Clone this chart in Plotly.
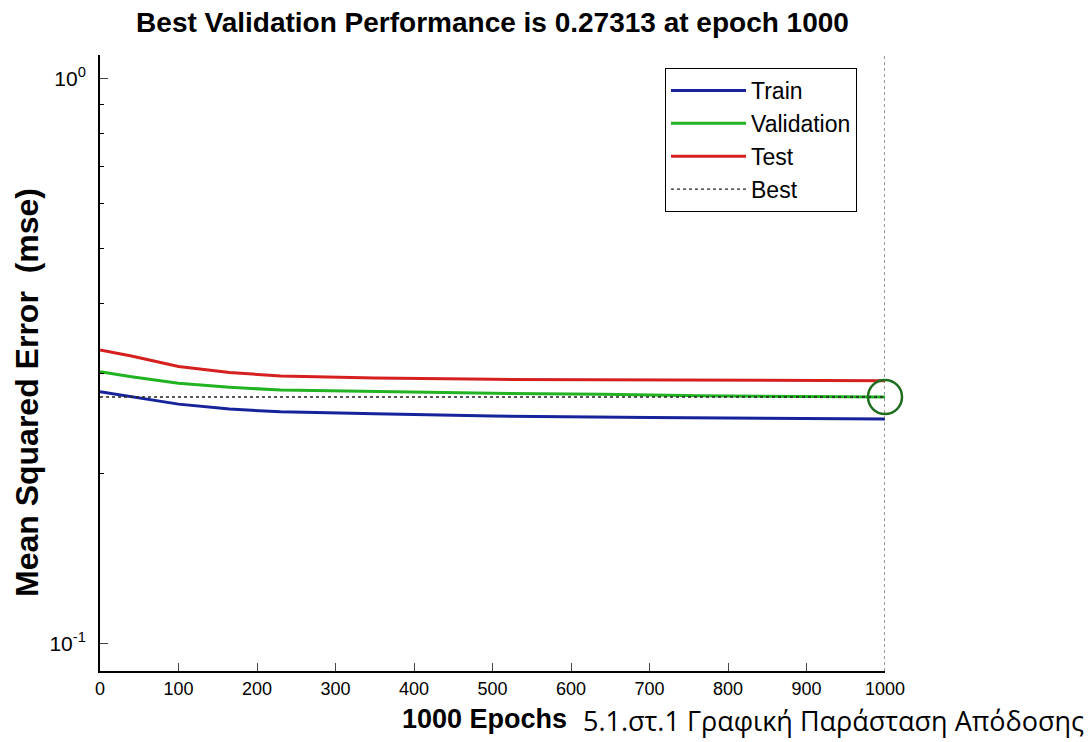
import plotly.graph_objects as go

# Training record (mean squared error per epoch)
epochs_train = [0, 40, 100, 165, 230, 350, 500, 700, 900, 1000]
mse_train = [0.2790, 0.2733, 0.2653, 0.2600, 0.2571, 0.2550, 0.2527, 0.2513, 0.2500, 0.2498]

epochs_val = [0, 40, 100, 165, 230, 350, 500, 640, 765, 1000]
mse_val = [0.3027, 0.2966, 0.2888, 0.2841, 0.2810, 0.2790, 0.2772, 0.2761, 0.2745, 0.27313]

epochs_test = [0, 40, 100, 165, 230, 350, 500, 700, 1000]
mse_test = [0.3307, 0.3227, 0.3093, 0.3018, 0.2975, 0.2951, 0.2935, 0.2927, 0.2918]

best_epoch = 1000
best_perf = 0.27313
y_limits = [0.0894, 1.101]
x_ticks = [0, 100, 200, 300, 400, 500, 600, 700, 800, 900, 1000]
y_ticks = [0.1, 1]
y_ticktext = ["10<sup>-1</sup>", "10<sup>0</sup>"]
y_minor = [0.2, 0.3, 0.4, 0.5, 0.6, 0.7, 0.8, 0.9]

BLUE = "#17239a"
GREEN = "#22b322"
RED = "#d62020"
FONT = "Liberation Sans, Arial, sans-serif"

# plot area in pixels (left, right, top, bottom)
L, R, T, B = 100, 885, 55, 671
W, H = 1091, 742

fig = go.Figure()
fig.add_trace(go.Scatter(x=epochs_train, y=mse_train, mode="lines", name="Train",
                         line=dict(color=BLUE, width=3)))
fig.add_trace(go.Scatter(x=epochs_val, y=mse_val, mode="lines", name="Validation",
                         line=dict(color=GREEN, width=3)))
fig.add_trace(go.Scatter(x=epochs_test, y=mse_test, mode="lines", name="Test",
                         line=dict(color=RED, width=3)))
fig.add_trace(go.Scatter(x=[0, best_epoch], y=[best_perf, best_perf], mode="lines", name="Best",
                         line=dict(color="#222222", width=1.3, dash="dot")))
# vertical marker of the best epoch
fig.add_trace(go.Scatter(x=[best_epoch, best_epoch], y=y_limits, mode="lines", showlegend=False,
                         line=dict(color="#555555", width=1.2, dash="dot")))
fig.add_trace(go.Scatter(x=[best_epoch], y=[best_perf], mode="markers", showlegend=False,
                         cliponaxis=False,
                         marker=dict(symbol="circle-open", size=34, color="#1f6e1f",
                                     line=dict(width=2.5, color="#1f6e1f"))))

fig.update_layout(
    width=W, height=H,
    margin=dict(l=L, r=W - R, t=T, b=H - B),
    paper_bgcolor="white", plot_bgcolor="white",
    font=dict(family=FONT, color="black", size=17),
    title=dict(text="<b>Best Validation Performance is 0.27313 at epoch 1000</b>",
               x=(L + R) / 2 / W, xanchor="center", y=1 - 22 / H, yanchor="middle",
               font=dict(size=28, family=FONT)),
    legend=dict(x=(665 - L) / (R - L), xanchor="left", y=(B - 68) / (B - T), yanchor="top",
                bgcolor="white", bordercolor="black", borderwidth=1,
                font=dict(size=23, family=FONT), itemwidth=75, tracegroupgap=0),
    showlegend=True,
)
fig.update_xaxes(range=[0, 1000], tickvals=x_ticks, ticks="inside", ticklen=8,
                 showline=True, linecolor="black", linewidth=2, showgrid=False, zeroline=False,
                 tickfont=dict(size=18))
fig.update_yaxes(type="log", range=[-1.0487, 0.0418], tickvals=y_ticks, ticktext=y_ticktext,
                 ticks="inside", ticklen=8, showline=True, linecolor="black", linewidth=2,
                 showgrid=False, zeroline=False, tickfont=dict(size=21), ticklabelstandoff=8,
                 minor=dict(tickvals=y_minor, ticks="inside", ticklen=4, tickcolor="black"))

# axis labels
fig.add_annotation(text="<b>Mean Squared Error  (mse)</b>", xref="paper", yref="paper",
                   x=(27 - L) / (R - L), xanchor="center", y=(B - 393) / (B - T), yanchor="middle",
                   textangle=-90, showarrow=False, font=dict(family=FONT, size=32))
fig.add_annotation(text="<b>1000 Epochs</b>", xref="paper", yref="paper",
                   x=(484 - L) / (R - L), xanchor="center", y=(B - 719) / (B - T), yanchor="middle",
                   showarrow=False, font=dict(family=FONT, size=27))

fig.add_annotation(text="5.1.στ.1 Γραφική Παράσταση Απόδοσης", xref="paper", yref="paper",
                   x=(1086 - L) / (R - L), xanchor="right", y=(B - 720) / (B - T), yanchor="middle",
                   showarrow=False, font=dict(family="Open Sans, Noto Sans", size=27))

fig.write_html("out.html")
